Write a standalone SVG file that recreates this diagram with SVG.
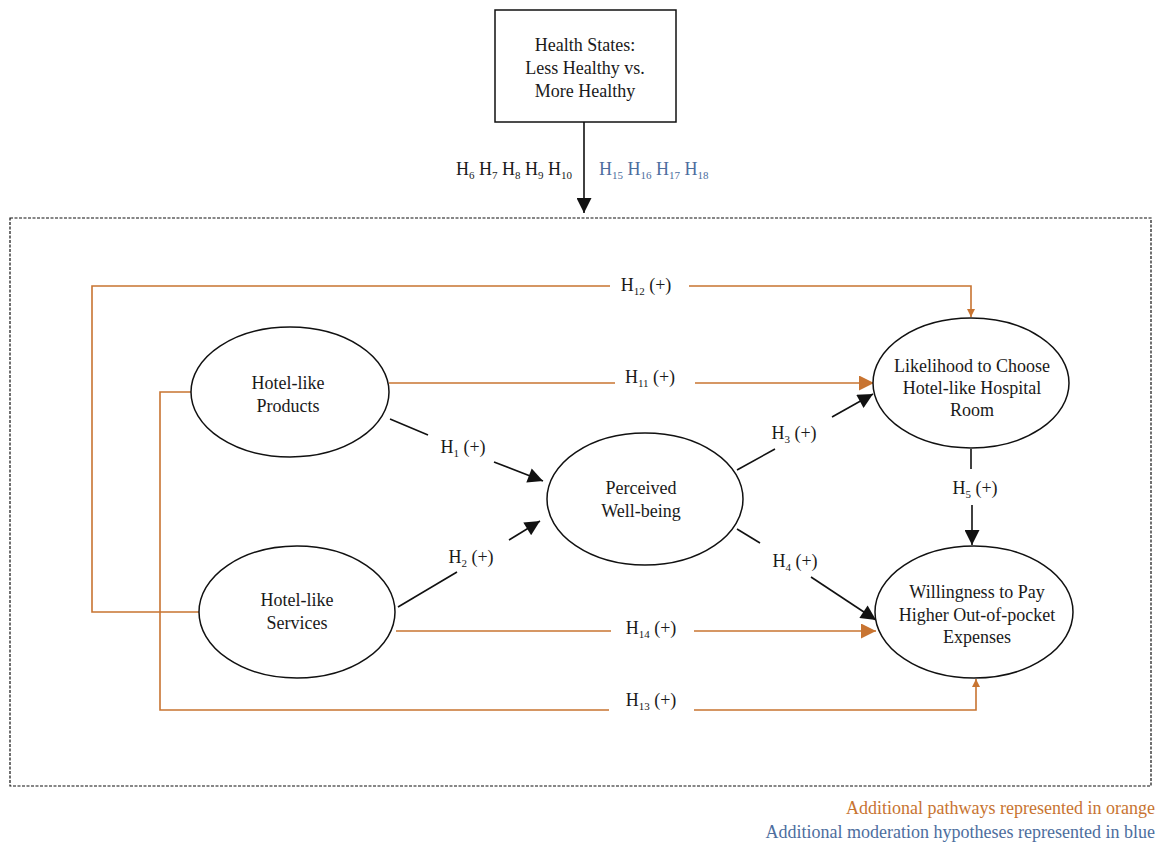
<svg xmlns="http://www.w3.org/2000/svg" width="1157" height="842" viewBox="0 0 1157 842">
<style>
text{font-family:"Liberation Serif","Times New Roman",serif;fill:#1a1a1a;font-size:18px}
.c{text-anchor:middle}
.s{font-size:11px}
.blue{fill:#4d6e9e}
.or{fill:#c87431}
.node{fill:#fff;stroke:#111;stroke-width:1.5}
.bl{fill:none;stroke:#111;stroke-width:1.6}
.ol{fill:none;stroke:#c87431;stroke-width:1.6}
</style>
<defs>
<marker id="ab" viewBox="0 0 10 10" refX="10" refY="5" markerUnits="userSpaceOnUse" markerWidth="16" markerHeight="15" orient="auto"><path d="M0,0 L10,5 L0,10 z" fill="#111"/></marker>
<marker id="aob" viewBox="0 0 10 10" refX="10" refY="5" markerUnits="userSpaceOnUse" markerWidth="16" markerHeight="15" orient="auto"><path d="M0,0 L10,5 L0,10 z" fill="#c87431"/></marker>
<marker id="aos" viewBox="0 0 10 10" refX="10" refY="5" markerUnits="userSpaceOnUse" markerWidth="9" markerHeight="8" orient="auto"><path d="M0,0 L10,5 L0,10 z" fill="#c87431"/></marker>
</defs>
<rect width="1157" height="842" fill="#fff"/>
<rect x="10" y="218" width="1141" height="568" fill="none" stroke="#111" stroke-width="1.2" stroke-dasharray="3,1.5"/>
<g id="connectors">
<path class="bl" d="M584,122 V213" marker-end="url(#ab)"/>
<path class="ol" d="M199,612 H92 V286 H610"/>
<path class="ol" d="M689,286 H971 V317" marker-end="url(#aos)"/>
<path class="ol" d="M191,392 H160 V710 H609"/>
<path class="ol" d="M694,710 H976 V679" marker-end="url(#aos)"/>
<path class="ol" d="M389,383 H615"/>
<path class="ol" d="M695,383 H874" marker-end="url(#aob)"/>
<path class="ol" d="M396,631 H611"/>
<path class="ol" d="M694,631 H876" marker-end="url(#aob)"/>
<path class="bl" d="M390,419 L428,435"/>
<path class="bl" d="M494,462 L543,481" marker-end="url(#ab)"/>
<path class="bl" d="M398,607 L457,572"/>
<path class="bl" d="M509,540 L540,521" marker-end="url(#ab)"/>
<path class="bl" d="M737,470 L775,449"/>
<path class="bl" d="M832,417 L873,394" marker-end="url(#ab)"/>
<path class="bl" d="M737,529 L760,543"/>
<path class="bl" d="M811,577 L876,620" marker-end="url(#ab)"/>
<path class="bl" d="M971,449 V469"/>
<path class="bl" d="M972,505 V545" marker-end="url(#ab)"/>
</g>
<g id="labels">
<text x="572" y="175" text-anchor="end">H<tspan class="s" dy="4">6</tspan><tspan dy="-4"> H</tspan><tspan class="s" dy="4">7</tspan><tspan dy="-4"> H</tspan><tspan class="s" dy="4">8</tspan><tspan dy="-4"> H</tspan><tspan class="s" dy="4">9</tspan><tspan dy="-4"> H</tspan><tspan class="s" dy="4">10</tspan></text>
<text x="599" y="175" class="blue">H<tspan class="s blue" dy="4">15</tspan><tspan class="blue" dy="-4"> H</tspan><tspan class="s blue" dy="4">16</tspan><tspan class="blue" dy="-4"> H</tspan><tspan class="s blue" dy="4">17</tspan><tspan class="blue" dy="-4"> H</tspan><tspan class="s blue" dy="4">18</tspan></text>
<text x="646" y="291" class="c">H<tspan class="s" dy="4">12</tspan><tspan dy="-4"> (+)</tspan></text>
<text x="650" y="383" class="c">H<tspan class="s" dy="4">11</tspan><tspan dy="-4"> (+)</tspan></text>
<text x="463" y="453" class="c">H<tspan class="s" dy="4">1</tspan><tspan dy="-4"> (+)</tspan></text>
<text x="471" y="563" class="c">H<tspan class="s" dy="4">2</tspan><tspan dy="-4"> (+)</tspan></text>
<text x="794" y="439" class="c">H<tspan class="s" dy="4">3</tspan><tspan dy="-4"> (+)</tspan></text>
<text x="795" y="567" class="c">H<tspan class="s" dy="4">4</tspan><tspan dy="-4"> (+)</tspan></text>
<text x="975" y="494" class="c">H<tspan class="s" dy="4">5</tspan><tspan dy="-4"> (+)</tspan></text>
<text x="651" y="634" class="c">H<tspan class="s" dy="4">14</tspan><tspan dy="-4"> (+)</tspan></text>
<text x="651" y="706" class="c">H<tspan class="s" dy="4">13</tspan><tspan dy="-4"> (+)</tspan></text>
</g>
<g id="health">
<rect x="495" y="10" width="181" height="112" fill="#fff" stroke="#111" stroke-width="1.5"/>
<text x="585" y="51" class="c">Health States:</text>
<text x="585" y="74" class="c">Less Healthy vs.</text>
<text x="585" y="97" class="c">More Healthy</text>
</g>
<g id="products">
<ellipse class="node" cx="290" cy="392" rx="99" ry="65"/>
<text x="288" y="389" class="c">Hotel-like</text>
<text x="288" y="412" class="c">Products</text>
</g>
<g id="services">
<ellipse class="node" cx="297" cy="612" rx="98" ry="66"/>
<text x="297" y="606" class="c">Hotel-like</text>
<text x="297" y="629" class="c">Services</text>
</g>
<g id="wellbeing">
<ellipse class="node" cx="645" cy="499" rx="98" ry="66"/>
<text x="641" y="494" class="c">Perceived</text>
<text x="641" y="517" class="c">Well-being</text>
</g>
<g id="likelihood">
<ellipse class="node" cx="971" cy="383" rx="98" ry="65"/>
<text x="972" y="372" class="c">Likelihood to Choose</text>
<text x="972" y="394" class="c">Hotel-like Hospital</text>
<text x="972" y="416" class="c">Room</text>
</g>
<g id="willingness">
<ellipse class="node" cx="974" cy="612" rx="99" ry="66"/>
<text x="977" y="598" class="c">Willingness to Pay</text>
<text x="977" y="621" class="c">Higher Out-of-pocket</text>
<text x="977" y="643" class="c">Expenses</text>
</g>
<g id="legend">
<text x="1155" y="814" text-anchor="end" class="or" font-size="19">Additional pathways represented in orange</text>
<text x="1155" y="838" text-anchor="end" class="blue" font-size="19">Additional moderation hypotheses represented in blue</text>
</g>
</svg>
